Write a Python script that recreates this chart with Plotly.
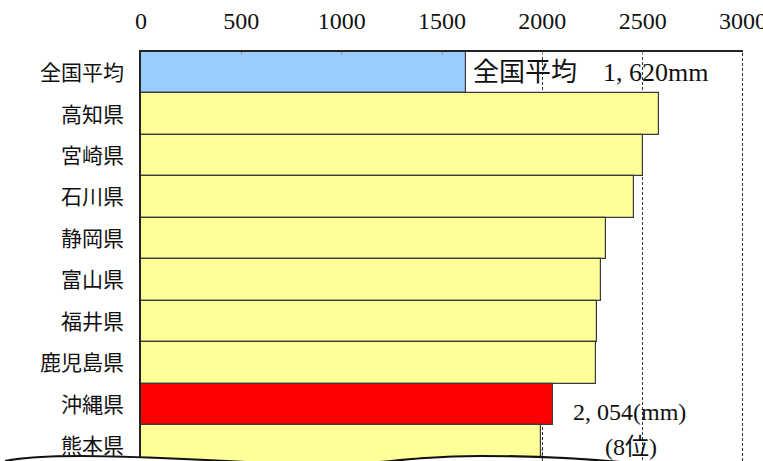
import plotly.graph_objects as go

categories = ["全国平均", "高知県", "宮崎県", "石川県", "静岡県", "富山県", "福井県", "鹿児島県", "沖縄県", "熊本県"]
values = [1620, 2582, 2500, 2458, 2318, 2294, 2270, 2265, 2054, 1995]
colors = ["#99CCFF"] + ["#FFFF99"] * 7 + ["#FF0000", "#FFFF99"]
tick_values = [0, 500, 1000, 1500, 2000, 2500, 3000]
tick_labels = ["0", "500", "1000", "1500", "2000", "2500", "3000"]
avg_label = "全国平均　1, 620mm"
okinawa_label = "2, 054(mm)"
rank_label = "(8位)"

W, H = 763, 461
L, R, T, B = 141, 20, 52, 0
PW, PH = W - L - R, H - T - B

def px(x, y):
    return (x - L) / PW, (H - y) / PH

def path_from(points_cmds):
    out = []
    for cmd, pts in points_cmds:
        coords = " ".join("%.5f,%.5f" % px(x, y) for x, y in pts)
        out.append(cmd + " " + coords if coords else cmd)
    return " ".join(out)

wave = [
    ("M", [(5, 461)]),
    ("C", [(20, 458), (45, 456), (80, 456)]),
    ("S", [(200, 459), (260, 463)]),
    ("L", [(370, 463)]),
    ("C", [(410, 459), (440, 456), (480, 456)]),
    ("S", [(580, 458), (630, 463)]),
]
wave_fill = wave + [("L", [(763, 470)]), ("L", [(0, 470)]), ("Z", [])]

fig = go.Figure()
fig.add_trace(go.Bar(
    x=values, y=categories, orientation="h",
    marker=dict(color=colors, line=dict(color="#3a3a3a", width=1.2)),
    hoverinfo="skip",
))

serif = "Liberation Serif, Noto Sans CJK JP"
fig.update_layout(
    width=W, height=H,
    margin=dict(l=L, r=R, t=T, b=B, pad=0, autoexpand=False),
    paper_bgcolor="white", plot_bgcolor="white",
    bargap=0, showlegend=False,
    xaxis=dict(
        side="top", range=[0, 3000], tickvals=tick_values, ticktext=tick_labels,
        showgrid=True, gridcolor="#333333", griddash="3px,2px", gridwidth=1,
        zeroline=False, showline=True, linecolor="#222222", linewidth=1.5,
        ticks="inside", ticklen=3, tickcolor="#999999",
        tickfont=dict(family=serif, size=24, color="#111111"),
        ticklabelstandoff=12, ticklabeloverflow="allow", automargin=False,
    ),
    yaxis=dict(
        type="category", range=[9.37, -0.5], showgrid=False, zeroline=False,
        showline=True, linecolor="#222222", linewidth=1.5, ticks="",
        tickfont=dict(family="Noto Sans CJK JP", size=21, color="#111111"),
        ticklabelstandoff=11, automargin=False,
    ),
    shapes=[
        dict(type="line", xref="x", yref="paper", x0=3000, x1=3000, y0=0, y1=1,
             line=dict(color="#333333", width=2, dash="3px,2px")),
        dict(type="path", xref="paper", yref="paper", path=path_from(wave_fill),
             fillcolor="white", line=dict(width=0), layer="above"),
        dict(type="path", xref="paper", yref="paper", path=path_from(wave),
             fillcolor="rgba(0,0,0,0)", line=dict(color="#111111", width=2.2), layer="above"),
        dict(type="line", xref="x", yref="paper", x0=2000, x1=2000, y0=0, y1=0.03,
             line=dict(color="#333333", width=1, dash="3px,2px"), layer="above"),
        dict(type="line", xref="x", yref="paper", x0=3000, x1=3000, y0=0, y1=0.03,
             line=dict(color="#333333", width=2, dash="3px,2px"), layer="above"),
    ],
    annotations=[
        dict(x=values[0], y=categories[0], xref="x", yref="y", text=avg_label,
             showarrow=False, xanchor="left", yanchor="middle", xshift=5,
             font=dict(family=serif, size=26, color="#111111")),
        dict(x=values[8], y=categories[8], xref="x", yref="y", text=okinawa_label,
             showarrow=False, xanchor="left", yanchor="middle", xshift=18, yshift=-8,
             font=dict(family=serif, size=24, color="#111111")),
        dict(x=values[8], y=categories[9], xref="x", yref="y", text=rank_label,
             showarrow=False, xanchor="center", yanchor="middle", xshift=78, yshift=-1,
             font=dict(family=serif, size=24, color="#111111")),
    ],
)

fig.write_html("out.html")
